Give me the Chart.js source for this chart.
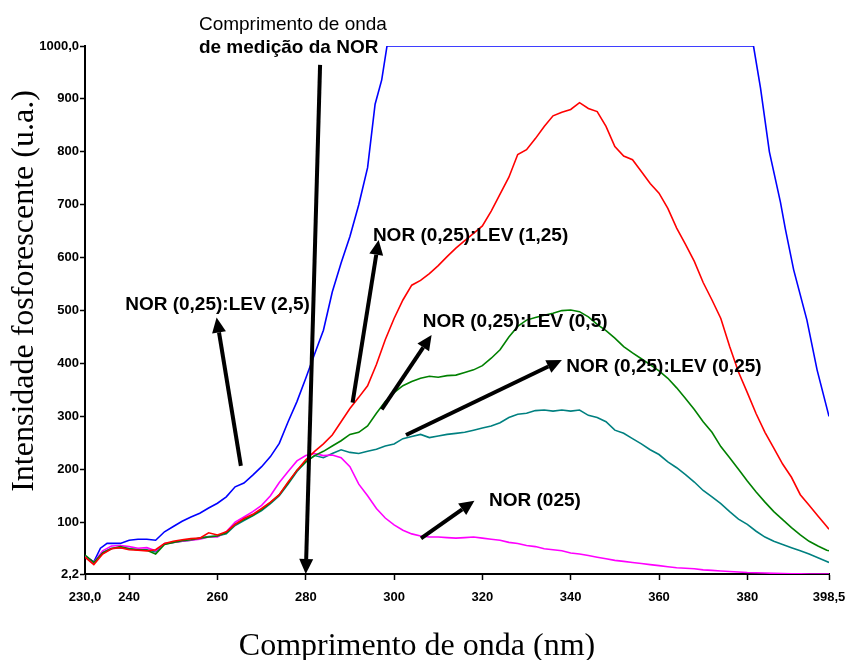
<!DOCTYPE html>
<html>
<head>
<meta charset="utf-8">
<script src="https://cdn.jsdelivr.net/npm/chart.js@4.4.1/dist/chart.umd.min.js"></script>
<style>
  html, body { margin: 0; padding: 0; background: #ffffff; }
  #wrap { width: 847px; height: 660px; }
</style>
</head>
<body>
<div id="wrap"><canvas id="c" width="847" height="660"></canvas></div>
<script>
// Wavelength grid (nm) shared by the four mixture/reference curves
const wavelengths = [
  230, 232, 234, 236, 238, 240, 242, 244, 246, 248,
  250, 252, 254, 256, 258, 260, 262, 264, 266, 268,
  270, 272, 274, 276, 278, 280, 282, 284, 286, 288,
  290, 292, 294, 296, 298, 300, 302, 304, 306, 308,
  310, 312, 314, 316, 318, 320, 322, 324, 326, 328,
  330, 332, 334, 336, 338, 340, 342, 344, 346, 348,
  350, 352, 354, 356, 358, 360, 362, 364, 366, 368,
  370, 372, 374, 376, 378, 380, 382, 384, 386, 388,
  390, 392, 394, 396, 398, 398.5
];

// NOR (0,25):LEV (1,25)
const lev125 = [
  34, 20, 40, 50, 52, 48, 47, 46, 48, 60,
  64, 67, 69, 70, 80, 76, 82, 96, 107, 115,
  126, 138, 152, 176, 198, 218, 234, 248, 265, 290,
  315, 336, 358, 398, 445, 485, 520, 548, 557, 570,
  585, 602, 618, 632, 646, 660, 688, 720, 752, 795,
  804, 825, 848, 868, 875, 880, 893, 882, 876, 848,
  810, 792, 785, 763, 740, 722, 693, 656, 625, 593,
  553, 520, 485, 432, 384, 345, 305, 270, 240, 210,
  185, 152, 132, 112, 92, 87
];

// NOR (0,25):LEV (0,5)
const lev05 = [
  38, 24, 42, 50, 54, 50, 48, 47, 40, 58,
  62, 65, 67, 70, 72, 74, 80, 96, 105, 113,
  124, 137, 152, 174, 198, 214, 226, 234, 244, 254,
  266, 270, 282, 306, 328, 345, 358, 366, 372, 376,
  374, 377, 378, 383, 388, 396, 410, 426, 450, 470,
  482, 487, 491, 495, 500, 501, 498, 488, 474, 462,
  448, 432, 420, 409, 398, 386, 372, 354, 334, 313,
  290, 270, 243, 222, 200, 178, 157, 138, 120, 105,
  90, 76, 64, 55, 47, 46
];

// NOR (0,25):LEV (0,25)
const lev025 = [
  37, 23, 43, 51, 52, 50, 48, 48, 44, 59,
  62, 64, 66, 70, 73, 74, 78, 94, 103, 112,
  122, 135, 150, 172, 196, 214, 226, 222, 230, 237,
  232, 230, 234, 238, 244, 248, 258, 262, 266, 260,
  263, 266, 268, 270, 274, 278, 282, 288, 298, 304,
  306, 311, 312, 310, 312, 310, 312, 302, 298, 290,
  274, 268, 258, 248, 237, 228, 214, 203, 190, 176,
  160, 148, 135, 120, 106, 96, 83, 72, 64, 58,
  52, 46, 40, 33, 26, 24
];

// NOR (025) alone
const norOnly = [
  36, 24, 46, 55, 56, 54, 51, 52, 46, 60,
  62, 64, 66, 68, 72, 72, 82, 100, 110, 120,
  132, 150, 175, 196, 216, 226, 230, 226, 227, 222,
  205, 172, 150, 126, 108, 95, 85, 78, 74, 72,
  72, 71, 70, 71, 72, 70, 68, 66, 62, 60,
  56, 54, 50, 48, 46, 42, 40, 37, 34, 31,
  28, 26, 24, 22, 20, 18, 16, 14, 13, 12,
  10, 9, 8, 7, 6, 5, 4.5, 4, 3.5, 3,
  2.8, 2.5, 2.3, 2.2, 2.2, 2.2
];

// NOR (0,25):LEV (2,5) saturates the detector, so it has its own grid
const lev25Nm = [
  230, 232, 233.5, 235, 238, 240, 242, 244, 246, 248,
  250, 252, 254, 256, 258, 260, 262, 264, 266, 268,
  270, 272, 274, 276, 278, 280, 282, 284, 286, 288,
  290, 292, 294, 295.7, 297.2, 298.4, 381.4, 383, 385, 387.5,
  388.6, 390.5, 393.5, 395.8, 398.5
];
const lev25 = [
  36, 25, 51, 60, 60, 66, 68, 68, 66, 82,
  92, 102, 110, 117, 127, 136, 148, 167, 174, 189,
  205, 224, 249, 290, 328, 372, 418, 463, 535, 590,
  640, 700, 770, 890, 936, 1000, 1000, 920, 800, 705,
  655, 577, 482, 388, 300
];

// Axis ticks and their printed labels (decimal comma)
const xTickValues = [230, 240, 260, 280, 300, 320, 340, 360, 380, 398.5];
const xTickLabels = ['230,0', '240', '260', '280', '300', '320', '340', '360', '380', '398,5'];
const yTickValues = [2.2, 100, 200, 300, 400, 500, 600, 700, 800, 900, 1000];
const yTickLabels = ['2,2', '100', '200', '300', '400', '500', '600', '700', '800', '900', '1000,0'];

const xTitle = 'Comprimento de onda (nm)';
const yTitle = 'Intensidade fosforescente (u.a.)';

// Callout labels and arrows, placed in data units (nm, u.a.)
const callouts = [
  { text: 'Comprimento de onda', at: [255.8, 1030.6], bold: false },
  { text: 'de medição da NOR', at: [255.8, 987], bold: true },
  { text: 'NOR (0,25):LEV (2,5)', at: [239.1, 501], bold: true },
  { text: 'NOR (0,25):LEV (1,25)', at: [295.2, 632], bold: true },
  { text: 'NOR (0,25):LEV (0,5)', at: [306.5, 469.7], bold: true },
  { text: 'NOR (0,25):LEV (0,25)', at: [339.0, 384.6], bold: true },
  { text: 'NOR (025)', at: [321.5, 130.7], bold: true }
];
const arrows = [
  { from: [283.24, 964.4], to: [280.0, 2.2] },
  { from: [265.3, 206.4], to: [259.8, 486.7] },
  { from: [290.6, 326.0], to: [296.5, 633.6] },
  { from: [297.2, 313.5], to: [308.5, 454.0] },
  { from: [302.7, 265.0], to: [338.0, 406.7] },
  { from: [306.1, 69.7], to: [318.2, 140.8] }
];

function pairs(xs, ys) {
  return xs.map((x, i) => ({ x: x, y: ys[i] }));
}

function series(label, xs, ys, color) {
  return {
    label: label,
    data: pairs(xs, ys),
    borderColor: color,
    backgroundColor: color,
    borderWidth: 1.6,
    pointRadius: 0,
    tension: 0,
    fill: false
  };
}

function drawArrow(ctx, x1, y1, x2, y2) {
  const headLen = 15, headW = 14;
  const ang = Math.atan2(y2 - y1, x2 - x1);
  const bx = x2 - headLen * Math.cos(ang);
  const by = y2 - headLen * Math.sin(ang);
  ctx.beginPath();
  ctx.moveTo(x1, y1);
  ctx.lineTo(bx, by);
  ctx.lineWidth = 4;
  ctx.lineCap = 'butt';
  ctx.stroke();
  ctx.beginPath();
  ctx.moveTo(x2, y2);
  ctx.lineTo(bx + headW / 2 * Math.sin(ang), by - headW / 2 * Math.cos(ang));
  ctx.lineTo(bx - headW / 2 * Math.sin(ang), by + headW / 2 * Math.cos(ang));
  ctx.closePath();
  ctx.fill();
}

const overlay = {
  id: 'overlay',
  afterDraw(chart) {
    const ctx = chart.ctx;
    const xs = chart.scales.x, ys = chart.scales.y;
    const area = chart.chartArea;
    ctx.save();
    ctx.fillStyle = '#000';
    ctx.strokeStyle = '#000';
    arrows.forEach(a => {
      drawArrow(ctx,
        xs.getPixelForValue(a.from[0]), ys.getPixelForValue(a.from[1]),
        xs.getPixelForValue(a.to[0]), ys.getPixelForValue(a.to[1]));
    });
    ctx.textAlign = 'left';
    ctx.textBaseline = 'alphabetic';
    callouts.forEach(c => {
      ctx.font = (c.bold ? 'bold ' : '') + '19px "Liberation Sans", Arial, sans-serif';
      ctx.fillText(c.text, xs.getPixelForValue(c.at[0]), ys.getPixelForValue(c.at[1]));
    });
    // axis titles
    ctx.font = '32px "Liberation Serif", "Times New Roman", serif';
    ctx.textAlign = 'center';
    ctx.textBaseline = 'middle';
    ctx.fillText(xTitle, (area.left + area.right) / 2 - 40, chart.height - 13);
    ctx.translate(25, (area.top + area.bottom) / 2 - 19);
    ctx.rotate(-Math.PI / 2);
    ctx.fillText(yTitle, 0, 0);
    ctx.restore();
  }
};

const tickFont = { family: '"Liberation Sans", Arial, sans-serif', size: 13, weight: 'bold' };

new Chart(document.getElementById('c'), {
  type: 'line',
  data: {
    datasets: [
      series('NOR (0,25):LEV (1,25)', wavelengths, lev125, '#ff0000'),
      series('NOR (0,25):LEV (0,5)', wavelengths, lev05, '#008000'),
      series('NOR (025)', wavelengths, norOnly, '#ff00ff'),
      series('NOR (0,25):LEV (0,25)', wavelengths, lev025, '#008080'),
      series('NOR (0,25):LEV (2,5)', lev25Nm, lev25, '#0000ff')
    ]
  },
  options: {
    responsive: false,
    animation: false,
    layout: { padding: { left: 0, top: 46, right: 18, bottom: 0 } },
    plugins: {
      legend: { display: false },
      tooltip: { enabled: false }
    },
    scales: {
      x: {
        type: 'linear',
        min: 230,
        max: 398.5,
        afterBuildTicks: s => { s.ticks = xTickValues.map(v => ({ value: v })); },
        afterFit: s => { s.height = 86; s.paddingLeft = 0; s.paddingRight = 0; },
        ticks: {
          autoSkip: false,
          maxRotation: 0,
          padding: 10,
          color: '#000',
          font: tickFont,
          callback: (v, i) => xTickLabels[i]
        },
        grid: {
          drawOnChartArea: false,
          drawTicks: true,
          tickLength: 6,
          tickWidth: 1.5,
          tickColor: '#000'
        },
        border: { display: true, color: '#000', width: 2 }
      },
      y: {
        type: 'linear',
        min: 2.2,
        max: 1000,
        afterBuildTicks: s => { s.ticks = yTickValues.map(v => ({ value: v })); },
        afterFit: s => { s.width = 85; s.paddingTop = 0; s.paddingBottom = 0; },
        ticks: {
          autoSkip: false,
          padding: 1,
          color: '#000',
          font: tickFont,
          callback: (v, i) => yTickLabels[i]
        },
        grid: {
          drawOnChartArea: false,
          drawTicks: true,
          tickLength: 5,
          tickWidth: 1.5,
          tickColor: '#000'
        },
        border: { display: true, color: '#000', width: 2 }
      }
    }
  },
  plugins: [overlay]
});
</script>
</body>
</html>
